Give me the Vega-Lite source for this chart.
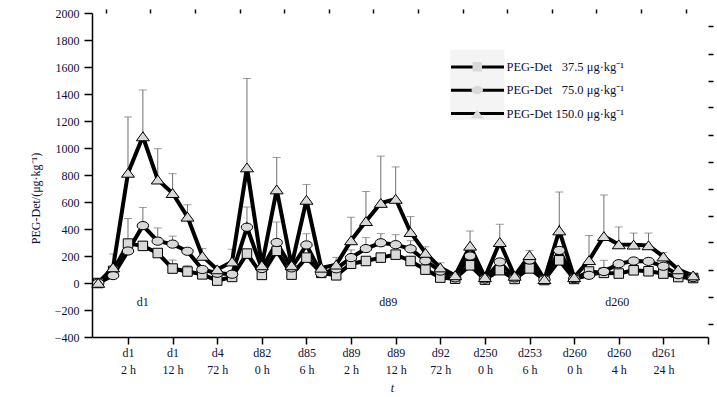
{
  "$schema": "https://vega.github.io/schema/vega-lite/v6.json",
  "width": 616,
  "height": 324,
  "autosize": {"type": "none"},
  "padding": {"left": 92, "top": 13, "right": 9, "bottom": 60},
  "background": "white",
  "config": {
    "view": {"stroke": null},
    "font": "Liberation Serif",
    "axis": {
      "labelFont": "Liberation Serif", "labelFontSize": 12, "labelColor": "#101035",
      "titleFont": "Liberation Serif", "titleFontSize": 12, "titleFontWeight": "normal", "titleColor": "#101035",
      "domainColor": "#000", "tickColor": "#000", "grid": false, "domainWidth": 1.5, "tickWidth": 1.5
    },
    "legend": {
      "orient": "none", "legendX": 379, "legendY": 47.5, "title": null,
      "labelFont": "Liberation Serif", "labelFontSize": 12.5, "labelColor": "#101035",
      "symbolSize": 100, "rowPadding": 10.3, "padding": 0, "labelOffset": 23
    }
  },
  "datasets": {
    "pk": [
      {"i":0,"s":37.5,"v":0},{"i":1,"s":37.5,"v":90},{"i":2,"s":37.5,"v":292},{"i":3,"s":37.5,"v":275},{"i":4,"s":37.5,"v":222},
      {"i":5,"s":37.5,"v":107,"e":170},{"i":6,"s":37.5,"v":85,"e":130},{"i":7,"s":37.5,"v":64},{"i":8,"s":37.5,"v":18},{"i":9,"s":37.5,"v":45},
      {"i":10,"s":37.5,"v":218},{"i":11,"s":37.5,"v":60},{"i":12,"s":37.5,"v":238},{"i":13,"s":37.5,"v":62},{"i":14,"s":37.5,"v":188},
      {"i":15,"s":37.5,"v":75},{"i":16,"s":37.5,"v":57},{"i":17,"s":37.5,"v":143},{"i":18,"s":37.5,"v":163},{"i":19,"s":37.5,"v":188},
      {"i":20,"s":37.5,"v":210},{"i":21,"s":37.5,"v":163},{"i":22,"s":37.5,"v":99},{"i":23,"s":37.5,"v":40},{"i":24,"s":37.5,"v":32},
      {"i":25,"s":37.5,"v":131},{"i":26,"s":37.5,"v":25},{"i":27,"s":37.5,"v":95},{"i":28,"s":37.5,"v":30},{"i":29,"s":37.5,"v":108},
      {"i":30,"s":37.5,"v":22},{"i":31,"s":37.5,"v":168},{"i":32,"s":37.5,"v":30},{"i":33,"s":37.5,"v":85},{"i":34,"s":37.5,"v":75},
      {"i":35,"s":37.5,"v":70},{"i":36,"s":37.5,"v":94},{"i":37,"s":37.5,"v":87},{"i":38,"s":37.5,"v":70},{"i":39,"s":37.5,"v":44},
      {"i":40,"s":37.5,"v":37},
      {"i":0,"s":75,"v":0},{"i":1,"s":75,"v":55},{"i":2,"s":75,"v":237,"e":478},{"i":3,"s":75,"v":425,"e":560},{"i":4,"s":75,"v":310,"e":408},
      {"i":5,"s":75,"v":288,"e":347},{"i":6,"s":75,"v":235},{"i":7,"s":75,"v":100},{"i":8,"s":75,"v":72},{"i":9,"s":75,"v":65},
      {"i":10,"s":75,"v":413,"e":563},{"i":11,"s":75,"v":107},{"i":12,"s":75,"v":300,"e":452},{"i":13,"s":75,"v":112},{"i":14,"s":75,"v":282,"e":365},
      {"i":15,"s":75,"v":70},{"i":16,"s":75,"v":105},{"i":17,"s":75,"v":188,"e":245},{"i":18,"s":75,"v":255,"e":336},{"i":19,"s":75,"v":298,"e":366},
      {"i":20,"s":75,"v":284,"e":358},{"i":21,"s":75,"v":253,"e":313},{"i":22,"s":75,"v":165},{"i":23,"s":75,"v":88},{"i":24,"s":75,"v":38},
      {"i":25,"s":75,"v":200},{"i":26,"s":75,"v":30},{"i":27,"s":75,"v":156},{"i":28,"s":75,"v":38},{"i":29,"s":75,"v":170},
      {"i":30,"s":75,"v":25},{"i":31,"s":75,"v":241},{"i":32,"s":75,"v":32},{"i":33,"s":75,"v":57},{"i":34,"s":75,"v":85,"e":168},
      {"i":35,"s":75,"v":143},{"i":36,"s":75,"v":163},{"i":37,"s":75,"v":160},{"i":38,"s":75,"v":124},{"i":39,"s":75,"v":62},
      {"i":40,"s":75,"v":40},
      {"i":0,"s":150,"v":0},{"i":1,"s":150,"v":115,"e":215},{"i":2,"s":150,"v":815,"e":1230},{"i":3,"s":150,"v":1085,"e":1430},{"i":4,"s":150,"v":765,"e":995},
      {"i":5,"s":150,"v":665,"e":810},{"i":6,"s":150,"v":490,"e":580},{"i":7,"s":150,"v":200,"e":255},{"i":8,"s":150,"v":100},{"i":9,"s":150,"v":158,"e":250},
      {"i":10,"s":150,"v":855,"e":1515},{"i":11,"s":150,"v":130},{"i":12,"s":150,"v":692,"e":930},{"i":13,"s":150,"v":130},{"i":14,"s":150,"v":615,"e":730},
      {"i":15,"s":150,"v":112},{"i":16,"s":150,"v":135,"e":190},{"i":17,"s":150,"v":315,"e":487},{"i":18,"s":150,"v":457,"e":678},{"i":19,"s":150,"v":592,"e":940},
      {"i":20,"s":150,"v":622,"e":860},{"i":21,"s":150,"v":376,"e":492},{"i":22,"s":150,"v":222,"e":268},{"i":23,"s":150,"v":114,"e":150},{"i":24,"s":150,"v":56},
      {"i":25,"s":150,"v":275,"e":385},{"i":26,"s":150,"v":42},{"i":27,"s":150,"v":302,"e":435},{"i":28,"s":150,"v":52},{"i":29,"s":150,"v":205,"e":240},
      {"i":30,"s":150,"v":27},{"i":31,"s":150,"v":388,"e":674},{"i":32,"s":150,"v":42},{"i":33,"s":150,"v":168,"e":352},{"i":34,"s":150,"v":346,"e":652},
      {"i":35,"s":150,"v":285,"e":415},{"i":36,"s":150,"v":283,"e":370},{"i":37,"s":150,"v":278,"e":370},{"i":38,"s":150,"v":195,"e":225},{"i":39,"s":150,"v":100},
      {"i":40,"s":150,"v":55}
    ],
    "ann": [
      {"i":3,"v":-142,"label":"d1"},
      {"i":19.5,"v":-142,"label":"d89"},
      {"i":34.9,"v":-142,"label":"d260"}
    ]
  },
  "data": {"name": "pk"},
  "resolve": {"axis": {"x": "independent", "y": "independent"}},
  "layer": [
    {
      "transform": [{"filter": "false"}],
      "mark": {"type": "point", "filled": true},
      "encoding": {
        "x": {"field": "i", "type": "quantitative", "scale": {"domain": [-0.42, 41], "nice": false, "zero": false}, "axis": null},
        "y": {"field": "v", "type": "quantitative", "scale": {"domain": [-400, 2000], "nice": false, "zero": false}, "axis": null},
        "color": {
          "field": "s", "type": "nominal",
          "scale": {"domain": ["37.5", "75", "150"], "range": ["#efefef", "#efefef", "#efefef"]},
          "legend": {"symbolType": "M-5.4,-2.34H5.4V2.34H-5.4Z", "symbolFillColor": "#efefef", "symbolStrokeWidth": 0, "symbolStrokeColor": "transparent",
            "labelOpacity": 0, "labelExpr": "' '", "rowPadding": -0.6, "legendY": 42.3}
        }
      }
    },
    {
      "transform": [{"filter": "isValid(datum.e)"}],
      "mark": {"type": "rule", "color": "#707070", "strokeWidth": 1},
      "encoding": {
        "x": {"field": "i", "type": "quantitative", "scale": {"domain": [-0.42, 41], "nice": false, "zero": false},
          "axis": {
            "values": [2, 5, 8, 11, 14, 17, 20, 23, 26, 29, 32, 35, 38, 41],
            "labelExpr": "datum.value > 38 ? '' : [['d1','2 h'],['d1','12 h'],['d4','72 h'],['d82','0 h'],['d85','6 h'],['d89','2 h'],['d89','12 h'],['d92','72 h'],['d250','0 h'],['d253','6 h'],['d260','0 h'],['d260','4 h'],['d261','24 h']][round((datum.value - 2) / 3)]",
            "labelLineHeight": 17.5, "labelPadding": 3, "tickSize": 7, "labelFlush": false, "labelOverlap": false, "labelBound": false,
            "title": "t", "titleFontStyle": "italic", "titleX": 300, "titleY": 50, "titleBaseline": "middle"
          }
        },
        "y": {"field": "v", "type": "quantitative", "scale": {"domain": [-400, 2000], "nice": false, "zero": false},
          "axis": {
            "values": [-400, -200, 0, 200, 400, 600, 800, 1000, 1200, 1400, 1600, 1800, 2000],
            "format": "d",
            "tickSize": 8, "labelPadding": 5, "labelFlush": false, "labelOverlap": false, "labelBound": false,
            "title": "PEG-Det/(μg·kg⁻¹)", "titleX": -57, "titleY": 185, "titleBaseline": "middle", "titleAngle": 270
          }
        },
        "y2": {"field": "e"}
      }
    },
    {
      "transform": [{"filter": "isValid(datum.e)"}],
      "mark": {"type": "tick", "orient": "horizontal", "size": 8, "thickness": 1, "color": "#707070"},
      "encoding": {
        "x": {"field": "i", "type": "quantitative", "scale": {"domain": [-0.42, 41], "nice": false, "zero": false},
          "axis": {"values": [0.5, 3.5, 6.5, 9.5, 12.5, 15.5, 18.5, 21.5, 24.5, 27.5, 30.5, 33.5, 36.5, 39.5], "labels": false, "domain": false, "tickSize": 4, "title": null}
        },
        "y": {"field": "e", "type": "quantitative", "scale": {"domain": [-400, 2000], "nice": false, "zero": false},
          "axis": {"values": [-300, -100, 100, 300, 500, 700, 900, 1100, 1300, 1500, 1700, 1900], "labels": false, "domain": false, "tickSize": 5, "title": null}
        }
      }
    },
    {
      "mark": {"type": "line", "color": "#000000", "strokeWidth": 4},
      "encoding": {
        "x": {"field": "i", "type": "quantitative", "scale": {"domain": [-0.42, 41], "nice": false, "zero": false}, "axis": null},
        "y": {"field": "v", "type": "quantitative", "scale": {"domain": [-400, 2000], "nice": false, "zero": false}, "axis": null},
        "opacity": {
          "field": "s", "type": "ordinal",
          "scale": {"range": [1, 1, 1]},
          "legend": {"symbolType": "M-5.3,0H5.3", "symbolStrokeColor": "#000000", "symbolStrokeWidth": 3, "symbolFillColor": "transparent",
            "labelOpacity": 0, "labelExpr": "' '"}
        }
      }
    },
    {
      "mark": {"type": "point", "filled": true, "fill": "#d9d9d9", "stroke": "#000000", "strokeWidth": 1, "size": 100, "opacity": 1},
      "encoding": {
        "x": {"field": "i", "type": "quantitative", "scale": {"domain": [-0.42, 41], "nice": false, "zero": false}, "axis": null},
        "y": {"field": "v", "type": "quantitative", "scale": {"domain": [-400, 2000], "nice": false, "zero": false}, "axis": null},
        "shape": {
          "field": "s", "type": "nominal",
          "scale": {"domain": [37.5, 75, 150], "range": ["M-0.95,-0.95H0.95V0.95H-0.95Z", "M-1.15,0A1.15,0.82 0 1,0 1.15,0A1.15,0.82 0 1,0 -1.15,0Z", "M0,-0.92L1.3,0.85H-1.3Z"]},
          "legend": {"symbolFillColor": "#d9d9d9", "symbolStrokeColor": "#000000", "symbolStrokeWidth": 1,
            "labelExpr": "'PEG-Det ' + (datum.value < 100 ? '\u2007' : '') + format(datum.value, '.1f') + ' μg·kg⁻¹'"}
        }
      }
    },
    {
      "data": {"name": "ann"},
      "mark": {"type": "text", "font": "Liberation Serif", "fontSize": 12, "color": "#101035"},
      "encoding": {
        "x": {"field": "i", "type": "quantitative", "scale": {"domain": [-0.42, 41], "nice": false, "zero": false}, "axis": null},
        "y": {"field": "v", "type": "quantitative", "scale": {"domain": [-400, 2000], "nice": false, "zero": false}, "axis": null},
        "text": {"field": "label"}
      }
    }
  ]
}
